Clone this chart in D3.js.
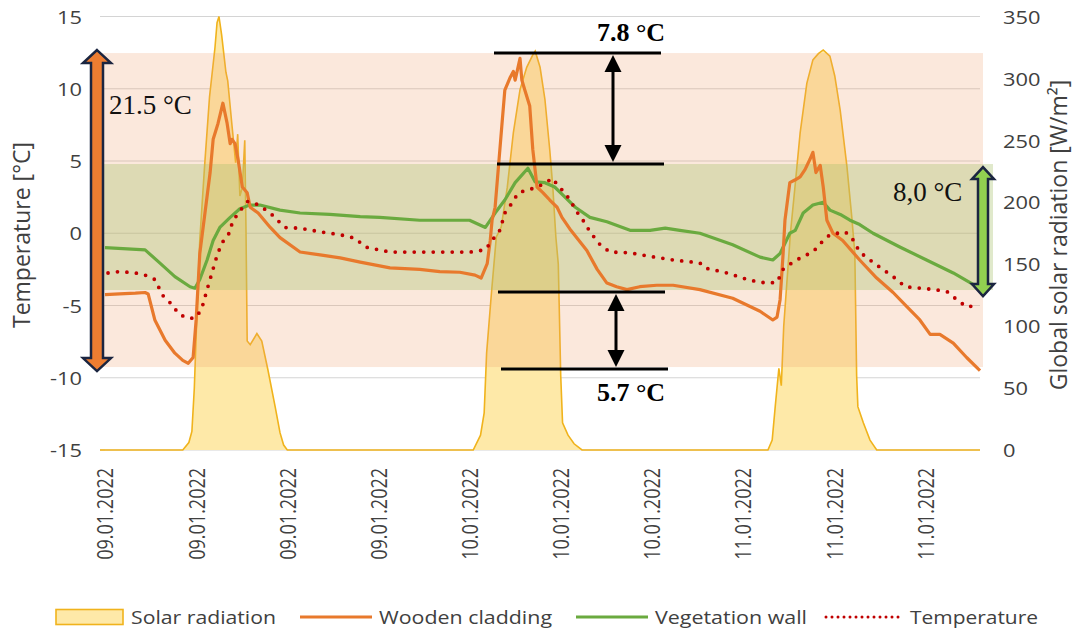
<!DOCTYPE html>
<html><head><meta charset="utf-8">
<script src="https://cdn.jsdelivr.net/npm/d3@7"></script>
<style>
body{margin:0;background:#fff}
svg{display:block}
text{font-family:"Open Sans",sans-serif;fill:#404040}
</style>
</head><body>
<svg id="chart" width="1081" height="632"></svg>
<script>
// ---------- DATA ----------
const timeTicks = [0, 7.5, 15, 22.5, 30, 37.5, 45, 52.5, 60, 67.5]; // hours since 09.01.2022 00:00
const tickLabels = ["09.01.2022","09.01.2022","09.01.2022","09.01.2022","10.01.2022","10.01.2022","10.01.2022","11.01.2022","11.01.2022","11.01.2022"];
const tempTicks = [-15, -10, -5, 0, 5, 10, 15];
const solarTicks = [0, 50, 100, 150, 200, 250, 300, 350];
const legendNames = ["Solar radiation", "Wooden cladding", "Vegetation wall", "Temperature"];

// [hour, W/m²]
const solarRadiation = [[0,0],[6.4,0],[6.9,6],[7.15,15],[7.35,50],[7.6,120],[7.8,170],[8.2,230],[8.6,285],[9.05,325],[9.22,345],[9.38,350],[9.6,335],[9.95,305],[10.1,298],[10.45,262],[10.75,232],[10.92,255],[11.1,205],[11.3,212],[11.5,250],[11.6,180],[11.7,88],[11.95,85],[12.5,94],[12.9,88],[13.4,65],[14.0,35],[14.4,14],[14.7,4],[15.0,0],
 [30.3,0],[30.9,12],[31.2,30],[31.4,78],[31.8,127],[32.2,172],[32.6,180],[33.1,212],[33.6,256],[34.15,291],[34.7,309],[35.2,319],[35.4,322],[35.8,309],[36.2,283],[36.6,242],[36.85,212],[37.1,172],[37.3,150],[37.5,60],[37.65,22],[38.1,12],[38.6,5],[39.25,0],
 [54.55,0],[54.9,8],[55.15,35],[55.45,66],[55.65,52],[55.85,100],[56.4,175],[56.8,215],[57.2,256],[57.75,296],[58.25,315],[58.7,320],[59.1,323],[59.65,318],[60.05,302],[60.5,274],[61.05,229],[61.45,188],[61.7,159],[61.85,60],[61.95,35],[62.4,22],[62.95,8],[63.5,0],[72,0]];

// [hour, °C]
const woodenCladding = [[0,-4.25],[1.2,-4.2],[2.5,-4.15],[3.3,-4.1],[3.55,-4.2],[4.1,-6.0],[4.95,-7.4],[5.75,-8.3],[6.4,-8.8],[6.85,-9.0],[7.25,-8.6],[7.5,-6.0],[7.8,-1.4],[8.65,4.2],[8.9,6.5],[9.3,7.6],[9.7,9.0],[10.05,7.6],[10.3,6.2],[10.45,6.5],[10.7,6.2],[10.95,5.1],[11.3,3.2],[11.7,2.8],[11.95,1.8],[12.6,1.4],[13.6,0.4],[14.4,-0.3],[16.05,-1.3],[17.7,-1.5],[19.35,-1.7],[21.0,-2.0],[23.45,-2.4],[25.9,-2.5],[27.55,-2.65],[29.2,-2.7],[30.45,-2.9],[30.95,-3.1],[31.45,-2.1],[31.7,-0.5],[31.85,0.9],[32.1,1.8],[32.65,7.4],[32.9,9.9],[33.35,10.8],[33.6,11.2],[33.75,10.6],[34.15,12.1],[34.3,10.6],[34.55,9.9],[34.95,8.8],[35.2,5.8],[35.55,3.2],[36.05,2.8],[36.6,2.3],[37.2,1.8],[37.6,1.1],[38.25,0.3],[39.65,-1.2],[40.5,-2.5],[41.3,-3.45],[42.1,-3.7],[42.95,-3.9],[44.0,-3.7],[45.4,-3.6],[46.75,-3.6],[48.95,-3.9],[51.65,-4.5],[53.9,-5.4],[54.95,-6.0],[55.3,-5.8],[55.55,-4.6],[55.8,-1.4],[55.95,0.9],[56.35,3.5],[56.8,3.7],[57.2,3.9],[57.6,4.4],[58.0,5.1],[58.25,5.6],[58.5,4.2],[58.85,4.7],[59.1,3.2],[59.4,0.9],[59.9,0.0],[60.7,-0.5],[62.1,-1.85],[63.5,-3.1],[64.85,-4.1],[66.0,-5.1],[67.05,-6.0],[67.9,-7.0],[68.7,-7.0],[69.8,-7.6],[70.9,-8.6],[72,-9.5]];

const vegetationWall = [[0,-1.0],[3.3,-1.15],[4.5,-2.05],[5.75,-3.0],[7.0,-3.7],[7.4,-3.8],[7.8,-3.2],[8.4,-1.85],[8.9,-0.5],[9.45,0.4],[10.3,1.1],[11.1,1.7],[11.9,1.95],[12.75,1.95],[14.4,1.6],[16.05,1.4],[18.5,1.3],[21.0,1.15],[22.6,1.1],[25.9,0.9],[30.0,0.9],[31.3,0.4],[32.1,1.4],[32.9,2.3],[33.75,3.5],[34.8,4.5],[35.4,3.55],[36.2,3.5],[37.0,3.2],[37.85,2.5],[38.7,1.8],[39.9,1.1],[41.3,0.8],[43.2,0.2],[44.85,0.2],[46.1,0.35],[47.3,0.2],[48.95,0.0],[51.65,-0.8],[53.9,-1.65],[54.95,-1.85],[55.55,-1.4],[56.35,0.0],[56.8,0.2],[57.45,1.4],[58.25,1.95],[59.1,2.15],[59.65,1.6],[60.5,1.3],[61.3,0.9],[62.1,0.6],[63.2,0.0],[65.4,-0.95],[67.6,-1.85],[69.8,-2.75],[71.75,-3.7],[72,-3.8]];

const temperature = [[0.25,-2.75],[1.2,-2.65],[2.5,-2.75],[3.3,-2.9],[4.1,-3.2],[4.75,-4.3],[5.35,-4.8],[6.15,-5.65],[7.0,-5.9],[7.55,-5.8],[8.0,-5.1],[8.4,-3.9],[8.8,-2.75],[9.2,-1.6],[9.6,-0.7],[10.3,0.1],[10.45,0.7],[10.95,1.4],[11.75,2.2],[12.3,2.1],[12.9,1.8],[13.6,1.4],[14.8,0.4],[16.05,0.35],[17.7,0.1],[19.35,-0.1],[20.6,-0.35],[21.4,-0.95],[23.45,-1.3],[25.9,-1.3],[28.4,-1.3],[30.05,-1.3],[31.25,-1.15],[31.7,-0.7],[32.35,0.1],[32.5,0.2],[32.9,1.4],[33.5,2.1],[34.0,2.8],[34.8,3.0],[35.6,3.2],[36.85,3.8],[37.25,3.3],[37.85,2.8],[38.25,2.3],[38.9,1.4],[39.5,0.7],[39.9,0.1],[40.75,-0.8],[41.55,-1.3],[43.2,-1.35],[44.85,-1.6],[46.75,-1.85],[48.95,-2.05],[49.35,-2.4],[51.2,-2.75],[53.05,-3.25],[54.45,-3.45],[55.3,-3.4],[55.8,-2.5],[56.6,-2.0],[57.45,-1.6],[58.25,-1.3],[59.0,-0.6],[59.65,-0.1],[60.9,0.1],[61.45,-0.3],[62.1,-1.3],[62.95,-1.85],[63.75,-2.35],[64.85,-3.0],[65.85,-3.7],[67.05,-3.8],[68.3,-3.9],[69.3,-4.05],[70.1,-4.6],[70.9,-5.1],[71.75,-5.0]];

// annotation levels (°C)
const rangeBand = [12.47, -9.26];      // 21.5 °C span
const vegBand = [4.79, -3.93];         // 8,0 °C span
const diffTop = [12.47, 4.79];         // 7.8 °C
const diffBottom = [-4.07, -9.4];      // 5.7 °C

// ---------- LAYOUT ----------
const svg = d3.select("#chart");
const plotL = 100, plotR = 980;
const x = d3.scaleLinear().domain([0, 72]).range([105, 980]);
const yL = d3.scaleLinear().domain([-15, 15]).range([450, 16.5]);
const yR = d3.scaleLinear().domain([0, 350]).range([450, 16.5]);
const SX = 1.15;

// gridlines
svg.append("g").selectAll("line").data(tempTicks).join("line")
  .attr("x1", plotL).attr("x2", plotR)
  .attr("y1", d => yL(d)).attr("y2", d => yL(d))
  .attr("stroke", "#d4d4d4").attr("stroke-width", 1.2);

// solar area
const area = d3.area().x(d => x(d[0])).y0(yR(0)).y1(d => yR(d[1]));
const sline = d3.line().x(d => x(d[0])).y(d => yR(d[1]));
svg.append("path").datum(solarRadiation).attr("d", area).attr("fill", "#fee9a8");
svg.append("path").datum(solarRadiation).attr("d", sline).attr("fill", "none")
  .attr("stroke", "#f0b31c").attr("stroke-width", 1.6);
svg.append("line").attr("x1", plotL).attr("x2", x(0)).attr("y1", yR(0)).attr("y2", yR(0))
  .attr("stroke", "#f0b31c").attr("stroke-width", 1.6);

// bands (semi-transparent overlays)
svg.append("rect").attr("x", plotL).attr("width", 983 - plotL)
  .attr("y", yL(rangeBand[0])).attr("height", yL(rangeBand[1]) - yL(rangeBand[0]))
  .attr("fill", "rgb(240,160,110)").attr("fill-opacity", 0.24);
svg.append("rect").attr("x", plotL).attr("width", 993 - plotL)
  .attr("y", yL(vegBand[0])).attr("height", yL(vegBand[1]) - yL(vegBand[0]))
  .attr("fill", "rgb(170,195,110)").attr("fill-opacity", 0.36);

// temperature lines
const tline = d3.line().x(d => x(d[0])).y(d => yL(d[1]));
svg.append("path").datum(vegetationWall).attr("d", tline).attr("fill", "none")
  .attr("stroke", "#6aaa3f").attr("stroke-width", 3.2).attr("stroke-linejoin", "round");
svg.append("path").datum(woodenCladding).attr("d", tline).attr("fill", "none")
  .attr("stroke", "#e8792c").attr("stroke-width", 3.2).attr("stroke-linejoin", "round");
svg.append("path").datum(temperature).attr("d", tline).attr("fill", "none")
  .attr("stroke", "#c00000").attr("stroke-width", 3.8).attr("stroke-linecap", "round")
  .attr("stroke-dasharray", "0 9.5");

// ---------- ANNOTATIONS ----------
function dblArrow(cx, y1, y2, sw, hw, hl) {
  return `M${cx},${y1} L${cx+hw},${y1+hl} L${cx+sw},${y1+hl} L${cx+sw},${y2-hl} L${cx+hw},${y2-hl} L${cx},${y2} L${cx-hw},${y2-hl} L${cx-sw},${y2-hl} L${cx-sw},${y1+hl} L${cx-hw},${y1+hl} Z`;
}
svg.append("path").attr("d", dblArrow(97, yL(rangeBand[0]) - 3, yL(rangeBand[1]) + 4, 6, 14, 13))
  .attr("fill", "#ed7d31").attr("stroke", "#1b2540").attr("stroke-width", 2.5).attr("stroke-linejoin", "miter");
svg.append("path").attr("d", dblArrow(983, yL(vegBand[0]) + 3, yL(vegBand[1]) + 6, 5, 11, 12))
  .attr("fill", "#92d050").attr("stroke", "#1b2540").attr("stroke-width", 2.5);

function diffMarker(levels, x1, x2, ax) {
  const g = svg.append("g");
  const ya = yL(levels[0]), yb = yL(levels[1]);
  g.append("line").attr("x1", x1).attr("x2", x2).attr("y1", ya).attr("y2", ya).attr("stroke", "#000").attr("stroke-width", 3);
  g.append("line").attr("x1", x1 + 3).attr("x2", x2 + 3).attr("y1", yb).attr("y2", yb).attr("stroke", "#000").attr("stroke-width", 3);
  g.append("line").attr("x1", ax).attr("x2", ax).attr("y1", ya + 14).attr("y2", yb - 14).attr("stroke", "#000").attr("stroke-width", 3);
  g.append("path").attr("d", `M${ax},${ya+2} L${ax+8.5},${ya+19} L${ax-8.5},${ya+19} Z`).attr("fill", "#000");
  g.append("path").attr("d", `M${ax},${yb-2} L${ax+8.5},${yb-19} L${ax-8.5},${yb-19} Z`).attr("fill", "#000");
}
diffMarker(diffTop, 494, 661, 613);
diffMarker(diffBottom, 498, 665, 616);

const serif = '"Liberation Serif","Times New Roman",serif';
svg.append("text").attr("x", 631).attr("y", 41).attr("text-anchor", "middle")
  .style("font-family", serif).style("font-weight", "bold").style("font-size", "26px").style("fill", "#000").text("7.8 °C");
svg.append("text").attr("x", 631).attr("y", 401).attr("text-anchor", "middle")
  .style("font-family", serif).style("font-weight", "bold").style("font-size", "26px").style("fill", "#000").text("5.7 °C");
svg.append("text").attr("x", 109).attr("y", 114)
  .style("font-family", serif).style("font-size", "27px").style("fill", "#111").text("21.5 °C");
svg.append("text").attr("x", 893).attr("y", 201)
  .style("font-family", serif).style("font-size", "27px").style("fill", "#111").text("8,0 °C");

// ---------- AXES ----------
const axL = svg.append("g").attr("transform", `translate(${plotL},0)`)
  .call(d3.axisLeft(yL).tickValues(tempTicks).tickSize(0).tickFormat(d => String(d)));
axL.select(".domain").remove();
axL.selectAll("text").attr("x", 0).attr("dy", "0.35em").attr("text-anchor", "end")
  .attr("transform", `translate(-18,0) scale(${SX},1)`)
  .style("font-size", "19px").style("fill", "#404040").style("font-family", '"Open Sans",sans-serif');

const axR = svg.append("g").attr("transform", `translate(983,0)`)
  .call(d3.axisRight(yR).tickValues(solarTicks).tickSize(0).tickFormat(d => String(d)));
axR.select(".domain").remove();
axR.selectAll("text").attr("x", 0).attr("dy", "0.35em").attr("text-anchor", "start")
  .attr("transform", `translate(20,0) scale(${SX},1)`)
  .style("font-size", "19px").style("fill", "#404040").style("font-family", '"Open Sans",sans-serif');

const axB = svg.append("g").attr("transform", `translate(0,450)`)
  .call(d3.axisBottom(x).tickValues(timeTicks).tickSize(0).tickFormat((d, i) => tickLabels[i]));
axB.select(".domain").remove();
axB.selectAll("text").attr("x", 0).attr("y", 0).attr("dy", "0.35em").attr("text-anchor", "end")
  .attr("transform", `translate(0,18) scale(1.25,1) rotate(-90)`)
  .style("font-size", "18px").style("fill", "#404040").style("font-family", '"Open Sans",sans-serif');

// axis titles
svg.append("text").attr("transform", "translate(30,235) rotate(-90)").attr("text-anchor", "middle")
  .style("font-size", "23px").text("Temperature [°C]");
svg.append("text").attr("transform", "translate(1067,235) rotate(-90)").attr("text-anchor", "middle")
  .style("font-size", "23px").text("Global solar radiation [W/m²]");

// ---------- LEGEND ----------
const leg = svg.append("g");
const ly = 617;
const legTextX = [131, 379, 655, 910];
const legTextW = [145, 173, 152, 128];
const legSym = [[56, 123], [300, 372], [576, 648], [824, 903]];
leg.append("rect").attr("x", legSym[0][0]).attr("y", ly - 7.5).attr("width", legSym[0][1] - legSym[0][0]).attr("height", 15)
  .attr("fill", "#fee9a8").attr("stroke", "#f0b31c").attr("stroke-width", 1.6);
leg.append("line").attr("x1", legSym[1][0]).attr("x2", legSym[1][1]).attr("y1", ly).attr("y2", ly).attr("stroke", "#e8792c").attr("stroke-width", 3.2);
leg.append("line").attr("x1", legSym[2][0]).attr("x2", legSym[2][1]).attr("y1", ly).attr("y2", ly).attr("stroke", "#6aaa3f").attr("stroke-width", 3.2);
leg.append("line").attr("x1", legSym[3][0] + 2).attr("x2", legSym[3][1]).attr("y1", ly).attr("y2", ly).attr("stroke", "#c00000")
  .attr("stroke-width", 3).attr("stroke-linecap", "round").attr("stroke-dasharray", "0 6");
legendNames.forEach((n, i) => {
  leg.append("text").attr("x", legTextX[i]).attr("y", ly).attr("dy", "0.35em")
    .attr("textLength", legTextW[i]).attr("lengthAdjust", "spacingAndGlyphs")
    .style("font-size", "19px").style("fill", "#404040").text(n);
});
</script>
</body></html>
